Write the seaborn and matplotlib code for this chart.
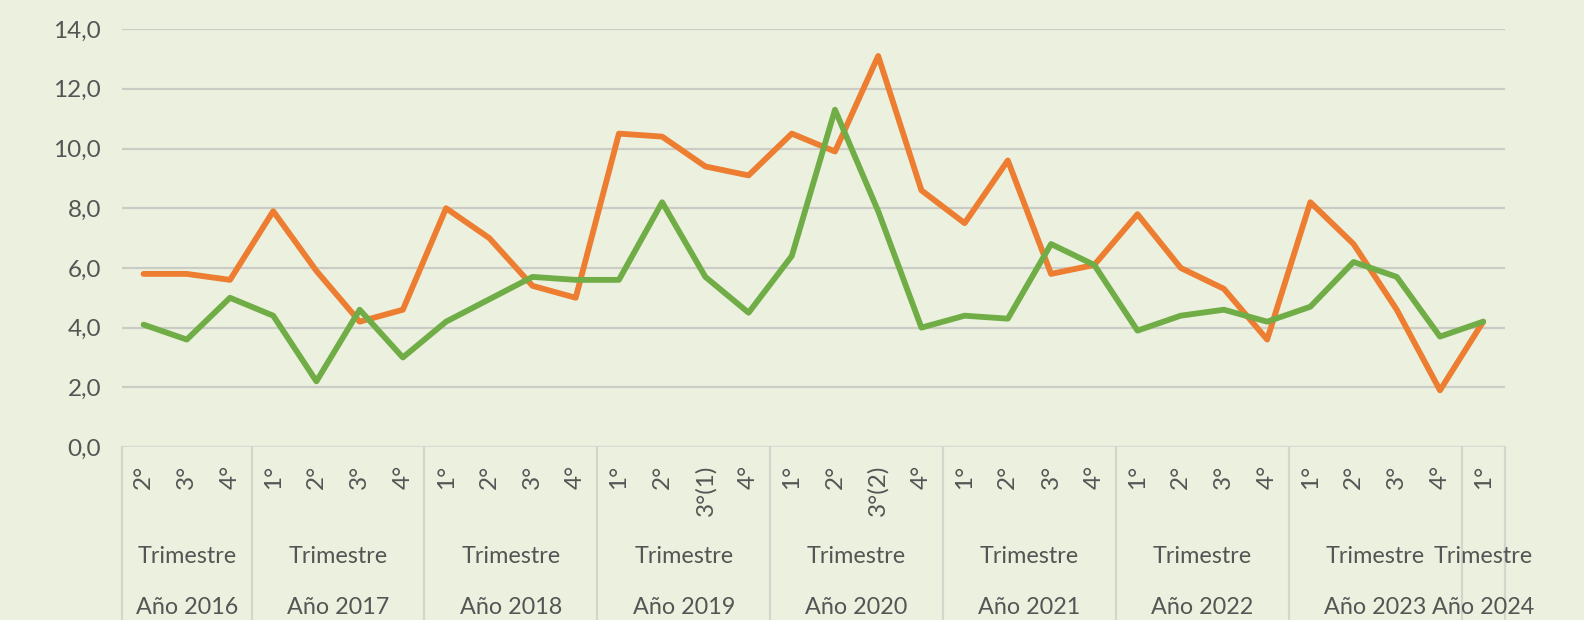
"""Quarterly series 2016-2024, two lines with a grouped quarter/year axis."""

import matplotlib.pyplot as plt
import matplotlib.transforms as mtransforms
import numpy as np
import pandas as pd
import seaborn as sns

# quarter labels per year, in the order they appear on the axis
years = ["Año 2016", "Año 2017", "Año 2018", "Año 2019", "Año 2020",
         "Año 2021", "Año 2022", "Año 2023", "Año 2024"]
quarters = [
    ["2°", "3°", "4°"],
    ["1°", "2°", "3°", "4°"],
    ["1°", "2°", "3°", "4°"],
    ["1°", "2°", "3°(1)", "4°"],
    ["1°", "2°", "3°(2)", "4°"],
    ["1°", "2°", "3°", "4°"],
    ["1°", "2°", "3°", "4°"],
    ["1°", "2°", "3°", "4°"],
    ["1°"],
]
group_label = "Trimestre"

serie_naranja = [5.8, 5.8, 5.6,
                 7.9, 5.9, 4.2, 4.6,
                 8.0, 7.0, 5.4, 5.0,
                 10.5, 10.4, 9.4, 9.1,
                 10.5, 9.9, 13.1, 8.6,
                 7.5, 9.6, 5.8, 6.1,
                 7.8, 6.0, 5.3, 3.6,
                 8.2, 6.8, 4.6, 1.9,
                 4.2]
serie_verde = [4.1, 3.6, 5.0,
               4.4, 2.2, 4.6, 3.0,
               4.2, 4.95, 5.7, 5.6,
               5.6, 8.2, 5.7, 4.5,
               6.4, 11.3, 7.9, 4.0,
               4.4, 4.3, 6.8, 6.1,
               3.9, 4.4, 4.6, 4.2,
               4.7, 6.2, 5.7, 3.7,
               4.2]

BG = "#EBF1DE"
TEXT = "#555555"
GRID = "#CBCCC6"


def main() -> None:
    quarter_flat = [q for group in quarters for q in group]
    pos = np.arange(len(quarter_flat))
    df = pd.concat([
        pd.DataFrame({"pos": pos, "valor": serie_naranja, "serie": "naranja"}),
        pd.DataFrame({"pos": pos, "valor": serie_verde, "serie": "verde"}),
    ])

    sns.set_style("white")
    plt.rcParams["font.family"] = ["Lato", "DejaVu Sans"]

    fig = plt.figure(figsize=(15.84, 6.2), dpi=100, facecolor=BG)
    ax = fig.add_axes([0.077, 0.279, 0.873, 0.674])
    ax.set_facecolor(BG)

    sns.lineplot(
        data=df, x="pos", y="valor", hue="serie",
        palette={"naranja": "#ED7D31", "verde": "#70AD47"},
        linewidth=4.2, legend=False, ax=ax, zorder=3,
    )

    ax.set_xlim(-0.5, len(quarter_flat) - 0.5)
    ax.set_ylim(0, 14)
    ax.set_yticks(np.arange(0, 15, 2))
    ax.set_yticklabels([f"{v:.1f}".replace(".", ",") for v in np.arange(0, 15, 2)],
                       fontsize=17.5, color=TEXT)
    ax.tick_params(axis="y", length=0, pad=15)
    ax.set_xticks([])
    ax.set_xlabel("")
    ax.set_ylabel("")
    for s in ax.spines.values():
        s.set_visible(False)
    ax.grid(axis="y", color=GRID, linewidth=1.6, zorder=0)
    ax.axhline(0, color="#DADDD3", linewidth=2, zorder=1)

    # grouped category axis below the plot
    trans = mtransforms.blended_transform_factory(ax.transData, ax.transAxes)
    bounds = [-0.5]
    for group in quarters:
        bounds.append(bounds[-1] + len(group))
    for b in bounds:
        ax.plot([b, b], [0, -0.45], transform=trans, color="#D3D6CC",
                linewidth=1.6, clip_on=False)

    label_top = -0.042
    for x, q in zip(pos, quarter_flat):
        ax.text(x, label_top, q, transform=trans, rotation=90, ha="center",
                va="top", fontsize=17.5, color=TEXT)
    for i, (year, group) in enumerate(zip(years, quarters)):
        center = (bounds[i] + bounds[i + 1]) / 2
        ax.text(center, -0.262, group_label, transform=trans, ha="center",
                va="center", fontsize=16.8, color=TEXT)
        ax.text(center, -0.383, year, transform=trans, ha="center",
                va="center", fontsize=16.8, color=TEXT)

    fig.savefig("out.png", dpi=100, facecolor=BG)
    plt.close(fig)


if __name__ == "__main__":
    main()
